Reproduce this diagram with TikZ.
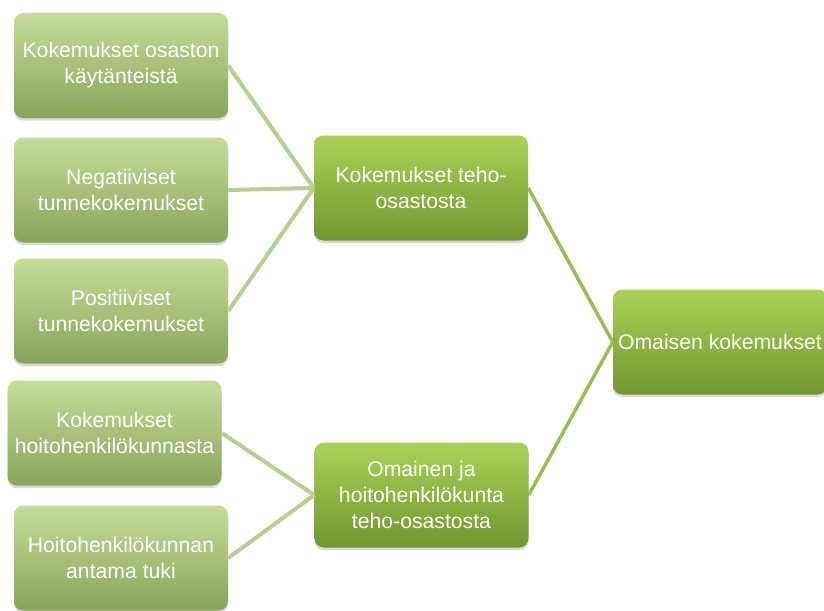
\documentclass[tikz,border=0pt]{standalone}
\usepackage{fontspec}
\setmainfont{Liberation Sans}
\usetikzlibrary{shadows}

\definecolor{vaalea1}{RGB}{198,220,152}
\definecolor{vaalea2}{RGB}{138,164,90}
\definecolor{keski1}{RGB}{170,210,86}
\definecolor{keski2}{RGB}{114,150,48}
\definecolor{viiva1}{RGB}{182,208,142}
\definecolor{viiva2}{RGB}{150,190,82}

\begin{document}
\begin{tikzpicture}[
    x=0.75pt, y=-0.75pt,
    font=\fontsize{15.9}{19.5}\selectfont,
    laatikko/.style={
        rectangle, rounded corners=7pt,
        minimum width=160.5pt, minimum height=78.75pt,
        inner sep=1pt, align=center, text=white,
        drop shadow={opacity=0.3, shadow xshift=0pt, shadow yshift=-2pt}
    },
    vaalea/.style={laatikko, top color=vaalea1, bottom color=vaalea2},
    keski/.style={laatikko, top color=keski1, bottom color=keski2},
    ohutviiva/.style={draw=viiva1, line width=3pt},
    paksuviiva/.style={draw=viiva2, line width=2.6pt}
]
\useasboundingbox (0,0) rectangle (824,610);

%% ── Vasen sarake ─────────────────────────────────────────────────
\node[vaalea] (k1) at (121, 65.5) {Kokemukset osaston\\käytänteistä};
\node[vaalea] (k2) at (121, 190)  {Negatiiviset\\tunnekokemukset};
\node[vaalea] (k3) at (121, 311)  {Positiiviset\\tunnekokemukset};
\node[vaalea] (k4) at (114.5, 433) {Kokemukset\\hoitohenkilökunnasta};
\node[vaalea] (k5) at (121, 558)  {Hoitohenkilökunnan\\antama tuki};

%% ── Keskisarake ──────────────────────────────────────────────────
\node[keski] (m1) at (421, 188)   {Kokemukset teho-\\osastosta};
\node[keski] (m2) at (421.5, 495) {Omainen ja\\hoitohenkilökunta\\teho-osastosta};

%% ── Oikea ────────────────────────────────────────────────────────
\node[keski] (om) at (720, 342)   {Omaisen kokemukset};

%% ── Yhteydet ─────────────────────────────────────────────────────
\draw[ohutviiva] (k1.east) -- (m1.west);
\draw[ohutviiva] (k2.east) -- (m1.west);
\draw[ohutviiva] (k3.east) -- (m1.west);
\draw[ohutviiva] (k4.east) -- (m2.west);
\draw[ohutviiva] (k5.east) -- (m2.west);
\draw[paksuviiva] (m1.east) -- (om.west);
\draw[paksuviiva] (m2.east) -- (om.west);

\end{tikzpicture}
\end{document}
